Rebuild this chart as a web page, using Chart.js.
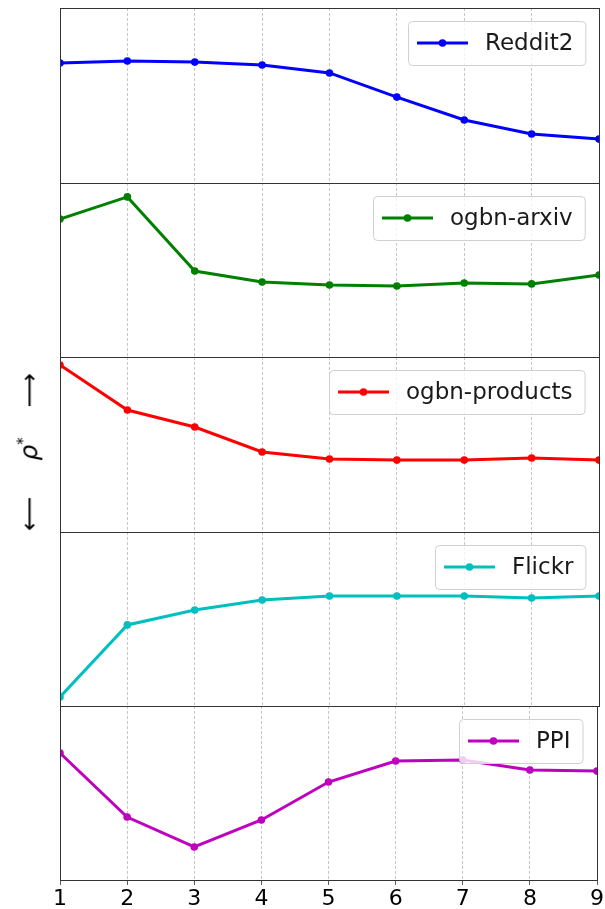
<!DOCTYPE html>
<html>
<head>
<meta charset="utf-8">
<script src="https://cdn.jsdelivr.net/npm/chart.js@4"></script>
<style>
  body { margin: 0; background: #fff; }
  #wrap { position: relative; width: 605px; height: 909px; overflow: hidden; }
  #wrap canvas { position: absolute; left: 0; }
  #ylab {
    position: absolute; left: 29px; top: 452px;
    transform: translate(-50%, -50%) rotate(-90deg);
    font-family: "DejaVu Sans"; white-space: nowrap; color: #000;
    display: flex; align-items: center;
  }
  #ylab .arr { font-size: 24px; }
  #ylab .rho { font-size: 25px; font-style: italic; margin: 0 30px 0 36px; }
  #ylab sup { font-size: 15px; font-style: normal; }
</style>
</head>
<body>
<div id="wrap">
  <canvas id="c0"></canvas>
  <canvas id="c1"></canvas>
  <canvas id="c2"></canvas>
  <canvas id="c3"></canvas>
  <canvas id="c4"></canvas>
  <div id="ylab"><span class="arr">⟵</span><span class="rho">ρ<sup>*</sup></span><span class="arr">⟶</span></div>
</div>
<script>
// ================= DATA =================
const xs = [1, 2, 3, 4, 5, 6, 7, 8, 9];
const xTicks = ["1", "2", "3", "4", "5", "6", "7", "8", "9"];

const reddit2 = [0.686, 0.697, 0.691, 0.674, 0.629, 0.491, 0.36, 0.28, 0.251];
const arxiv = [0.793, 0.92, 0.494, 0.431, 0.414, 0.408, 0.425, 0.42, 0.471];
const products = [0.954, 0.697, 0.6, 0.457, 0.417, 0.411, 0.411, 0.423, 0.411];
const flickr = [0.052, 0.466, 0.552, 0.609, 0.632, 0.632, 0.632, 0.621, 0.632];
const ppi = [0.73, 0.362, 0.19, 0.345, 0.563, 0.684, 0.69, 0.632, 0.626];

const names = ["Reddit2", "ogbn-arxiv", "ogbn-products", "Flickr", "PPI"];
const colors = ["#0000ff", "#008000", "#ff0000", "#00bfbf", "#bf00bf"];
const series = [reddit2, arxiv, products, flickr, ppi];

// panel edges in page pixels
const panelTop = [8, 183, 357, 532, 706];
const panelBottom = [183, 357, 532, 706, 880];

/* ================= PLUGIN: frame + legend ================= */
const frameLegend = {
  id: "frameLegend",
  afterDraw(chart) {
    const { ctx, chartArea: a } = chart;
    ctx.save();
    ctx.strokeStyle = "#333";
    ctx.lineWidth = 1;
    ctx.strokeRect(a.left + 0.5, a.top + 0.5, a.right - a.left, a.bottom - a.top);

    const ds = chart.data.datasets[0];
    ctx.font = '23px "DejaVu Sans"';
    const tw = ctx.measureText(ds.label).width;
    const w = 9 + 51 + 18 + tw + 11;
    const h = 44;
    const x = Math.round(a.right - 14 - w);
    const y = a.top + 13;
    ctx.beginPath();
    ctx.roundRect(x + 0.5, y + 0.5, w, h, 4);
    ctx.fillStyle = "rgba(255,255,255,0.8)";
    ctx.fill();
    ctx.strokeStyle = "#d0d0d0";
    ctx.stroke();

    const ly = y + h / 2;
    ctx.strokeStyle = ds.borderColor;
    ctx.lineWidth = 3;
    ctx.beginPath();
    ctx.moveTo(x + 9, ly);
    ctx.lineTo(x + 60, ly);
    ctx.stroke();
    ctx.fillStyle = ds.borderColor;
    ctx.beginPath();
    ctx.arc(x + 34.5, ly, 3.8, 0, Math.PI * 2);
    ctx.fill();

    ctx.fillStyle = "#1a1a1a";
    ctx.textBaseline = "middle";
    ctx.fillText(ds.label, x + 77, ly + 1);
    ctx.restore();
  },
};

/* ================= CHARTS ================= */
series.forEach((vals, i) => {
  const last = i === series.length - 1;
  const cv = document.getElementById("c" + i);
  const ph = panelBottom[i] - panelTop[i];
  cv.width = 605;
  cv.height = last ? 909 - panelTop[i] : ph + 1;
  cv.style.top = panelTop[i] + "px";

  new Chart(cv, {
    type: "line",
    data: {
      datasets: [
        {
          label: names[i],
          data: xs.map((x, k) => ({ x: x, y: vals[k] })),
          borderColor: colors[i],
          backgroundColor: colors[i],
          borderWidth: 3,
          pointRadius: 3.8,
          pointHoverRadius: 3.8,
          pointBorderWidth: 0,
          tension: 0,
        },
      ],
    },
    options: {
      responsive: false,
      animation: false,
      devicePixelRatio: 1,
      layout: {
        autoPadding: false,
        padding: { left: 60, right: 6, top: 0, bottom: last ? 0 : 1 },
      },
      plugins: { legend: { display: false }, tooltip: { enabled: false } },
      scales: {
        x: {
          type: "linear",
          min: 1,
          max: 9,
          afterFit: (s) => { s.height = last ? 29 : 0; },
          border: { display: false, dash: [3, 2] },
          grid: {
            color: "#b8b8b8",
            lineWidth: 0.8,
            drawTicks: last,
            tickLength: 5,
            tickColor: "#333",
          },
          ticks: {
            display: last,
            stepSize: 1,
            padding: 1,
            color: "#000",
            font: { family: "DejaVu Sans", size: 22 },
            callback: (v) => xTicks[v - 1],
          },
        },
        y: { display: false, min: 0, max: 1 },
      },
    },
    plugins: [frameLegend],
  });
});
</script>
</body>
</html>
